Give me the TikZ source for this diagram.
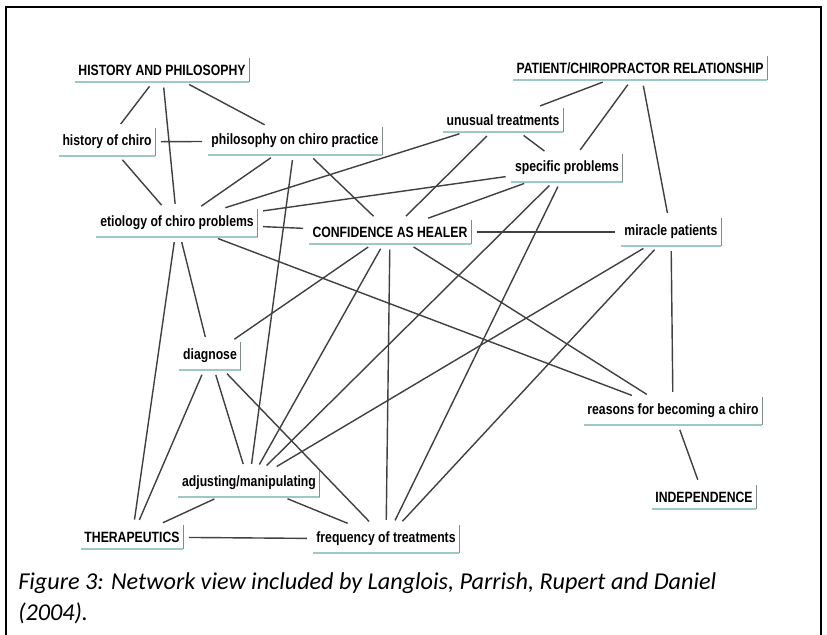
\documentclass[tikz,border=0pt]{standalone}
\usepackage{fontspec}
\setmainfont{Liberation Sans}
\newfontfamily\codefont[FakeStretch=0.82]{Liberation Sans Bold}
\newfontfamily\capfont{Carlito}
\definecolor{shadeteal}{RGB}{158,200,194}
\definecolor{shadegrey}{RGB}{128,140,138}
\usetikzlibrary{positioning}

\begin{document}
\begin{tikzpicture}[x=0.025cm,y=-0.025cm,
	main/.style = {font=\codefont\fontsize{10.6}{12}\selectfont, text=black, inner xsep=2.5pt, inner ysep=4.5pt},
	link/.style = {draw=black!75, line width=1pt, shorten >=4pt, shorten <=4pt},
	ledge/.style = {draw=shadeteal, line width=1.4pt},
	redge/.style = {draw=shadegrey, line width=0.9pt}]
		\useasboundingbox (0,0) rectangle (827,635);
		\draw[line width=1.1pt] (6,640) -- (6,7) -- (821,7) -- (821,640);
		% codes
		\node[main] (hp) at (162,70) {HISTORY AND PHILOSOPHY};
		\node[main] (pcr) at (640,68) {PATIENT/CHIROPRACTOR RELATIONSHIP};
		\node[main] (hist) at (107,142) {history of chiro};
		\node[main] (phil) at (295,141) {philosophy on chiro practice};
		\node[main] (unus) at (503,120) {unusual treatments};
		\node[main] (spec) at (567,168) {specific problems};
		\node[main] (etio) at (177,223) {etiology of chiro problems};
		\node[main] (conf) at (390,232) {CONFIDENCE AS HEALER};
		\node[main] (mirac) at (671,232) {miracle patients};
		\node[main] (diag) at (210,356) {diagnose};
		\node[main] (reas) at (673,411) {reasons for becoming a chiro};
		\node[main] (indep) at (704,497) {INDEPENDENCE};
		\node[main] (adj) at (249,483) {adjusting/manipulating};
		\node[main] (ther) at (132,537) {THERAPEUTICS};
		\node[main] (freq) at (386,539) {frequency of treatments};
		% box edges
		\foreach \n in {hp,pcr,hist,phil,unus,spec,etio,conf,mirac,diag,reas,indep,adj,ther,freq} {
			\draw[ledge] (\n.south west) -- (\n.south east);
			\draw[redge] (\n.north east) -- (\n.south east);
		}
		% links
		\draw[link] (hp) to (hist);
		\draw[link] (hp) to (etio);
		\draw[link] (hp) to (phil);
		\draw[link] (hist) to (phil);
		\draw[link] (hist) to (etio);
		\draw[link] (phil) to (etio);
		\draw[link] (phil) to (adj);
		\draw[link] (phil) to (conf);
		\draw[link] (pcr) to (unus);
		\draw[link] (pcr) to (spec);
		\draw[link] (pcr) to (mirac);
		\draw[link] (unus) to (etio);
		\draw[link] (unus) to (conf);
		\draw[link] (unus) to (spec);
		\draw[link] (spec) to (etio);
		\draw[link] (spec) to (conf);
		\draw[link] (spec) to (adj);
		\draw[link] (spec) to (freq);
		\draw[link] (etio) to (conf);
		\draw[link] (etio) to (diag);
		\draw[link] (etio) to (ther);
		\draw[link] (etio) to (reas);
		\draw[link] (conf) to (mirac);
		\draw[link] (conf) to (diag);
		\draw[link] (conf) to (adj);
		\draw[link] (conf) to (freq);
		\draw[link] (conf) to (reas);
		\draw[link] (mirac) to (adj);
		\draw[link] (mirac) to (freq);
		\draw[link] (mirac) to (reas);
		\draw[link] (reas) to (indep);
		\draw[link] (diag) to (adj);
		\draw[link] (diag) to (ther);
		\draw[link] (diag) to (freq);
		\draw[link] (adj) to (ther);
		\draw[link] (adj) to (freq);
		\draw[link] (ther) to (freq);
		% caption
		\node[font=\capfont\itshape\fontsize{17.2}{22}\selectfont, anchor=base west, align=left, inner sep=0pt] (cap) at (18,620) {Figure 3: Network view included by Langlois, Parrish, Rupert and Daniel\\(2004).};
	\end{tikzpicture}
\end{document}
